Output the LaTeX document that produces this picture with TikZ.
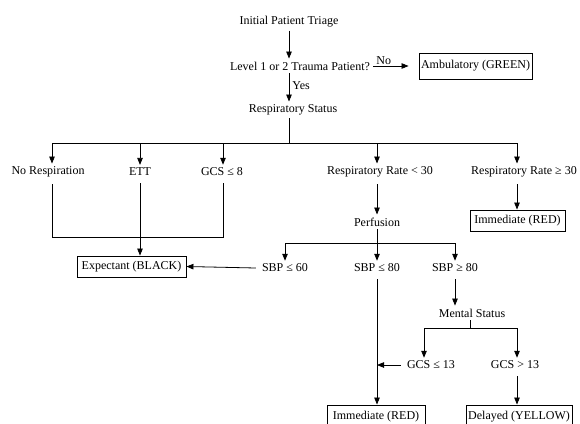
\documentclass[tikz,border=0pt]{standalone}
\usepackage{fontspec}
\setmainfont{Liberation Serif}
\usetikzlibrary{arrows.meta}
\begin{document}
\begin{tikzpicture}[x=1pt,y=-1pt,
  lbl/.style={inner sep=3pt,font=\fontsize{12}{14}\selectfont},
  boxn/.style={draw,line width=0.9pt,inner sep=2pt,font=\fontsize{12}{14}\selectfont},
  ln/.style={line width=0.8pt},
  arr/.style={line width=0.8pt,-{Triangle[length=7pt,width=5.5pt]}}]
\useasboundingbox (0,0) rectangle (580,423);
\clip (0,0) rectangle (580,423);
% nodes
\node[lbl] (t0) at (289,22) {Initial Patient Triage};
\node[lbl] (q1) at (300,66) {Level 1 or 2 Trauma Patient?};
\node[boxn,minimum width=113pt,minimum height=26pt] (amb) at (475.5,66) {Ambulatory (GREEN)};
\node[lbl] (rs) at (293,110) {Respiratory Status};
\node[lbl] (nr) at (48,172) {No Respiration};
\node[lbl] (ett) at (140,172) {ETT};
\node[lbl] (gcs8) at (222,172) {GCS ≤ 8};
\node[lbl] (rr1) at (380,172) {Respiratory Rate < 30};
\node[lbl] (rr2) at (524,172) {Respiratory Rate ≥ 30};
\node[boxn,minimum width=109pt,minimum height=21pt] (exp) at (131.5,266.5) {Expectant (BLACK)};
\node[lbl] (perf) at (377,222) {Perfusion};
\node[boxn,minimum width=95pt,minimum height=21pt] (imm1) at (517.5,220.5) {Immediate (RED)};
\node[lbl] (sbp60) at (285,268) {SBP ≤ 60};
\node[lbl] (sbp80) at (377,268) {SBP ≤ 80};
\node[lbl] (sbp80b) at (455,268) {SBP ≥ 80};
\node[lbl] (ms) at (472,313) {Mental Status};
\node[lbl] (gcs13) at (431,365) {GCS ≤ 13};
\node[lbl] (gcs13b) at (515,365) {GCS > 13};
\node[boxn,minimum width=98pt,minimum height=24pt] (imm2) at (376,417) {Immediate (RED)};
\node[boxn,minimum width=106pt,minimum height=24pt] (del) at (519,417) {Delayed (YELLOW)};
% coordinates
\coordinate (bL) at (52,143);
\coordinate (bE) at (140,143);
\coordinate (bG) at (223,143);
\coordinate (bC) at (289,143);
\coordinate (bM) at (377,143);
\coordinate (bR) at (517,143);
\coordinate (k1) at (52,237);
\coordinate (k2) at (223,237);
\coordinate (p1) at (285,243);
\coordinate (p2) at (455,243);
\coordinate (pc) at (377,243);
\coordinate (m1) at (424,328);
\coordinate (m2) at (517,328);
\coordinate (mc) at (470,328);
% connectors
\draw[arr] (t0.south) -- (t0.south |- q1.north);
\draw[arr] (q1.east) -- node[above,pos=0.3,inner sep=1pt,font=\fontsize{12}{14}\selectfont]{No} ([xshift=-10pt]amb.west);
\draw[arr] (t0.south |- q1.south) -- node[right,inner sep=3pt,font=\fontsize{12}{14}\selectfont,yshift=2pt]{Yes} (t0.south |- rs.north);
\draw[ln] (bC |- rs.south) -- (bC);
\draw[ln] (bL) -- (bR);
\draw[arr] (bL) -- (bL |- nr.north);
\draw[arr] (bE) -- (ett.north);
\draw[arr] (bG) -- (bG |- gcs8.north);
\draw[arr] (bM) -- (bM |- rr1.north);
\draw[arr] (bR) -- (bR |- rr2.north);
\draw[ln] ([yshift=-4pt]bL |- nr.south) -- (k1) -- (k2) -- ([yshift=-4pt]k2 |- gcs8.south);
\draw[arr] ([yshift=-4pt]ett.south) -- (ett.south |- exp.north);
\draw[arr] ([yshift=-4pt]bM |- rr1.south) -- (bM |- perf.north);
\draw[arr] ([yshift=-4pt]bR |- rr2.south) -- (bR |- imm1.north);
\draw[ln] (perf.south) -- (pc);
\draw[ln] (p1) -- (p2);
\draw[arr] (p1) -- (sbp60.north);
\draw[arr] (pc) -- (sbp80.north);
\draw[arr] (p2) -- (sbp80b.north);
\draw[arr] ([xshift=-3pt]sbp60.west) -- (exp.east);
\draw[arr] ([yshift=-4pt]sbp80.south) -- (sbp80.south |- imm2.north);
\draw[arr] ([yshift=-4pt]sbp80b.south) -- (sbp80b.south |- ms.north);
\draw[ln] (mc |- ms.south) -- (mc);
\draw[ln] (m1) -- (m2);
\draw[arr] (m1) -- (m1 |- gcs13.north);
\draw[arr] (m2) -- (m2 |- gcs13b.north);
\draw[arr] ([xshift=-3pt]gcs13.west) -- (gcs13.west -| sbp80.south);
\draw[arr] ([yshift=-4pt]m2 |- gcs13b.south) -- (m2 |- del.north);
\end{tikzpicture}
\end{document}
